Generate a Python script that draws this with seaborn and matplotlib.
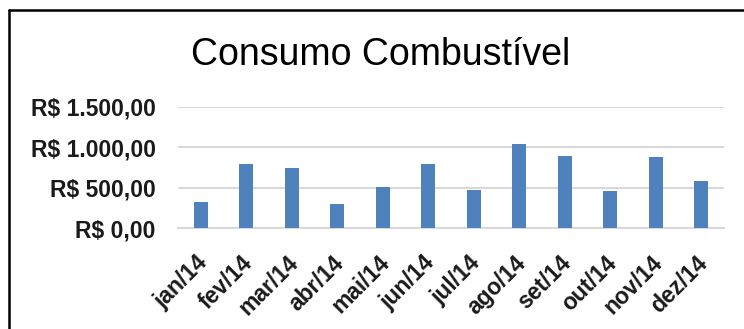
import matplotlib
matplotlib.use("Agg")
import matplotlib.pyplot as plt
import matplotlib.transforms as mtransforms
import seaborn as sns
import pandas as pd
from matplotlib.ticker import FuncFormatter, FixedLocator
from matplotlib.lines import Line2D

months = ["jan/14", "fev/14", "mar/14", "abr/14", "mai/14", "jun/14",
          "jul/14", "ago/14", "set/14", "out/14", "nov/14", "dez/14"]
values = [320, 790, 740, 295, 505, 790, 470, 1040, 890, 460, 885, 580]
yticks = [0, 500, 1000, 1500]
title = "Consumo Combustível"

df = pd.DataFrame({"mes": months, "valor": values})

sns.set_theme(style="white")
plt.rcParams['font.family'] = ['Liberation Sans', 'DejaVu Sans']

fig = plt.figure(figsize=(7.44, 3.29), dpi=100)
ax = fig.add_axes([178/744, 1-228.3/329, (724-178)/744, (228.3-106.7)/329])

sns.barplot(data=df, x="mes", y="valor", color="#4F81BD", saturation=1, width=0.31,
            ax=ax, zorder=3, edgecolor="none")

ax.set_ylim(0, 1500)
ax.set_xlim(-0.5, len(months) - 0.5)
ax.set_yticks(yticks)

def brl(v, pos):
    s = f"{v:,.2f}"
    s = s.replace(",", "X").replace(".", ",").replace("X", ".")
    return "R$ " + s

ax.yaxis.set_major_formatter(FuncFormatter(brl))
ax.grid(axis="y", color="#d9d9d9", linewidth=1.5, zorder=0)
ax.set_axisbelow(True)
for s in ["top", "right", "left"]:
    ax.spines[s].set_visible(False)
ax.spines["bottom"].set_color("#d9d9d9")
ax.spines["bottom"].set_linewidth(1.5)
ax.set_xlabel("")
ax.set_ylabel("")

ax.tick_params(axis="y", length=0, pad=16, labelsize=16.5)
for lab in ax.get_yticklabels():
    lab.set_fontweight("bold")
    lab.set_color("#1a1a1a")

ax.tick_params(axis="x", which="major", length=0, pad=13, labelsize=16.5)
ax.xaxis.set_minor_locator(FixedLocator([i - 0.5 for i in range(len(months) + 1)]))
ax.tick_params(axis="x", which="minor", length=5, width=1.5, color="#d9d9d9")
offset = mtransforms.ScaledTranslation(-5/100, -5/100, fig.dpi_scale_trans)
for lab in ax.get_xticklabels():
    lab.set_rotation(45)
    lab.set_ha("right")
    lab.set_rotation_mode("anchor")
    lab.set_fontweight("bold")
    lab.set_color("#1a1a1a")
    lab.set_transform(lab.get_transform() + offset)

fig.text(381/744, 1-55/329, title, ha="center", va="center", fontsize=27, color="#000000")

fig.add_artist(Line2D([9/744, 1], [1-10/329, 1-10/329], color="black", linewidth=1.8,
                      transform=fig.transFigure))
fig.add_artist(Line2D([9/744, 9/744], [0, 1-10/329], color="black", linewidth=1.8,
                      transform=fig.transFigure))

fig.savefig("out.png", dpi=100, facecolor="white")
